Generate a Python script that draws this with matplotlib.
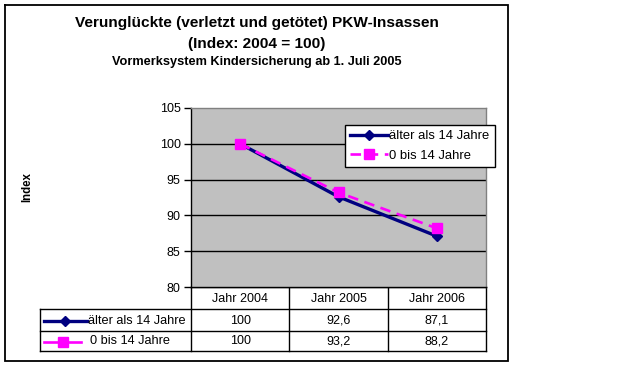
import matplotlib
matplotlib.use("Agg")
import matplotlib.pyplot as plt
from matplotlib.lines import Line2D

plt.rcParams['font.family'] = ['Liberation Sans', 'DejaVu Sans']

# ---- data ----
categories = ["Jahr 2004", "Jahr 2005", "Jahr 2006"]
series_names = ["älter als 14 Jahre", "0 bis 14 Jahre"]
older = [100, 92.6, 87.1]
young = [100, 93.2, 88.2]
yticks = [80, 85, 90, 95, 100, 105]
title1 = "Verunglückte (verletzt und getötet) PKW-Insassen"
title2 = "(Index: 2004 = 100)"
title3 = "Vormerksystem Kindersicherung ab 1. Juli 2005"
ylabel = "Index"

W, H = 617, 368
fig = plt.figure(figsize=(W / 100, H / 100), dpi=100)
fig.patch.set_facecolor("white")

def frac(x0, y0, x1, y1):
    return [x0 / W, 1 - y1 / H, (x1 - x0) / W, (y1 - y0) / H]

NAVY = "#000080"
MAG = "#FF00FF"
FS = 9.0
FS_LEG = 9.4

# overlay axes in pixel coordinates (for frame, title, table)
ov = fig.add_axes([0, 0, 1, 1], zorder=0)
ov.set_xlim(0, W)
ov.set_ylim(H, 0)
ov.axis("off")
ov.patch.set_alpha(0)

# chart border
ov.plot([5, 508, 508, 5, 5], [5, 5, 361, 361, 5], color="black", lw=1.3, solid_joinstyle="miter")

# main plot
ax = fig.add_axes(frac(191, 108, 486, 287), zorder=2)
ax.set_facecolor("#C0C0C0")
x = list(range(len(categories)))
ax.plot(x, older, color=NAVY, lw=2.4, marker="D", markersize=5.5,
        markerfacecolor=NAVY, markeredgecolor=NAVY, zorder=3, label=series_names[0])
ax.plot(x, young, color=MAG, lw=1.9, ls=(0, (4, 2.5)), marker="s", markersize=7,
        markerfacecolor=MAG, markeredgecolor=MAG, zorder=4, label=series_names[1])
ax.set_xlim(-0.5, len(categories) - 0.5)
ax.set_ylim(yticks[0], yticks[-1])
ax.set_yticks(yticks)
ax.set_yticklabels([str(v) for v in yticks], fontsize=FS)
ax.set_xticks([])
for v in yticks[1:-1]:
    ax.axhline(v, color="black", lw=1, zorder=1)
ax.tick_params(axis="y", direction="out", length=5, width=1, pad=2.5, color="black")
ax.spines["left"].set_color("black")
ax.spines["bottom"].set_color("black")
ax.spines["left"].set_linewidth(1)
ax.spines["bottom"].set_linewidth(1)
for s in ("top", "right"):
    ax.spines[s].set_color("#808080")
    ax.spines[s].set_linewidth(1)

ax.set_ylabel(ylabel, fontsize=8.3, fontweight="bold", labelpad=0)
ax.yaxis.set_label_coords((33 - 191) / (486 - 191), (287 - 187) / (287 - 108))

# legend box inside plot
leg_handles = [
    Line2D([], [], color=NAVY, lw=2.4, marker="D", markersize=5.5),
    Line2D([], [], color=MAG, lw=1.9, ls=(0, (4, 2.5)), marker="s", markersize=7),
]
leg = ax.legend(leg_handles, series_names, loc="upper left",
                bbox_to_anchor=((345 - 191) / (486 - 191), (287 - 125) / (287 - 108)),
                fontsize=FS_LEG, frameon=True, fancybox=False, framealpha=1,
                edgecolor="black", facecolor="white", borderpad=0.4,
                handlelength=2.9, handletextpad=0.1, labelspacing=0.55,
                borderaxespad=0)
leg.get_frame().set_linewidth(1)
leg.set_zorder(10)

# titles
ov.text(257, 23, title1, ha="center", va="center", fontsize=11.1, fontweight="bold")
ov.text(257, 44, title2, ha="center", va="center", fontsize=11.1, fontweight="bold")
ov.text(257, 62, title3, ha="center", va="center", fontsize=9.2, fontweight="bold")

# data table
col_edges = [191 + i * (486 - 191) / len(categories) for i in range(len(categories) + 1)]
tab_left = 40
rows_y = [287, 309, 331, 351]
lw_t = 1
ov.plot([col_edges[0], col_edges[-1]], [rows_y[0], rows_y[0]], color="black", lw=lw_t)
for yy in rows_y[1:]:
    ov.plot([tab_left, col_edges[-1]], [yy, yy], color="black", lw=lw_t)
for xe in col_edges:
    ov.plot([xe, xe], [rows_y[0], rows_y[-1]], color="black", lw=lw_t)
ov.plot([tab_left, tab_left], [rows_y[1], rows_y[-1]], color="black", lw=lw_t)

for i, c in enumerate(categories):
    xc = (col_edges[i] + col_edges[i + 1]) / 2
    ov.text(xc, (rows_y[0] + rows_y[1]) / 2 + 0.5, c, ha="center", va="center", fontsize=FS)

def fmt(v):
    return ("%g" % v).replace(".", ",")

for r, (vals, name) in enumerate([(older, series_names[0]), (young, series_names[1])]):
    yc = (rows_y[r + 1] + rows_y[r + 2]) / 2 + 0.5
    for i, v in enumerate(vals):
        xc = (col_edges[i] + col_edges[i + 1]) / 2
        ov.text(xc, yc, fmt(v), ha="center", va="center", fontsize=FS)
    if r == 0:
        ov.plot([44, 87], [yc, yc], color=NAVY, lw=2.4)
        ov.plot([65], [yc], marker="D", markersize=5, color=NAVY)
        ov.text(88, yc, name, ha="left", va="center", fontsize=9.2)
    else:
        ov.plot([44, 81], [yc, yc], color=MAG, lw=1.9)
        ov.plot([63], [yc], marker="s", markersize=6.5, color=MAG)
        ov.text(90, yc, name, ha="left", va="center", fontsize=9.2)

fig.savefig("out.png", dpi=100, facecolor="white")
